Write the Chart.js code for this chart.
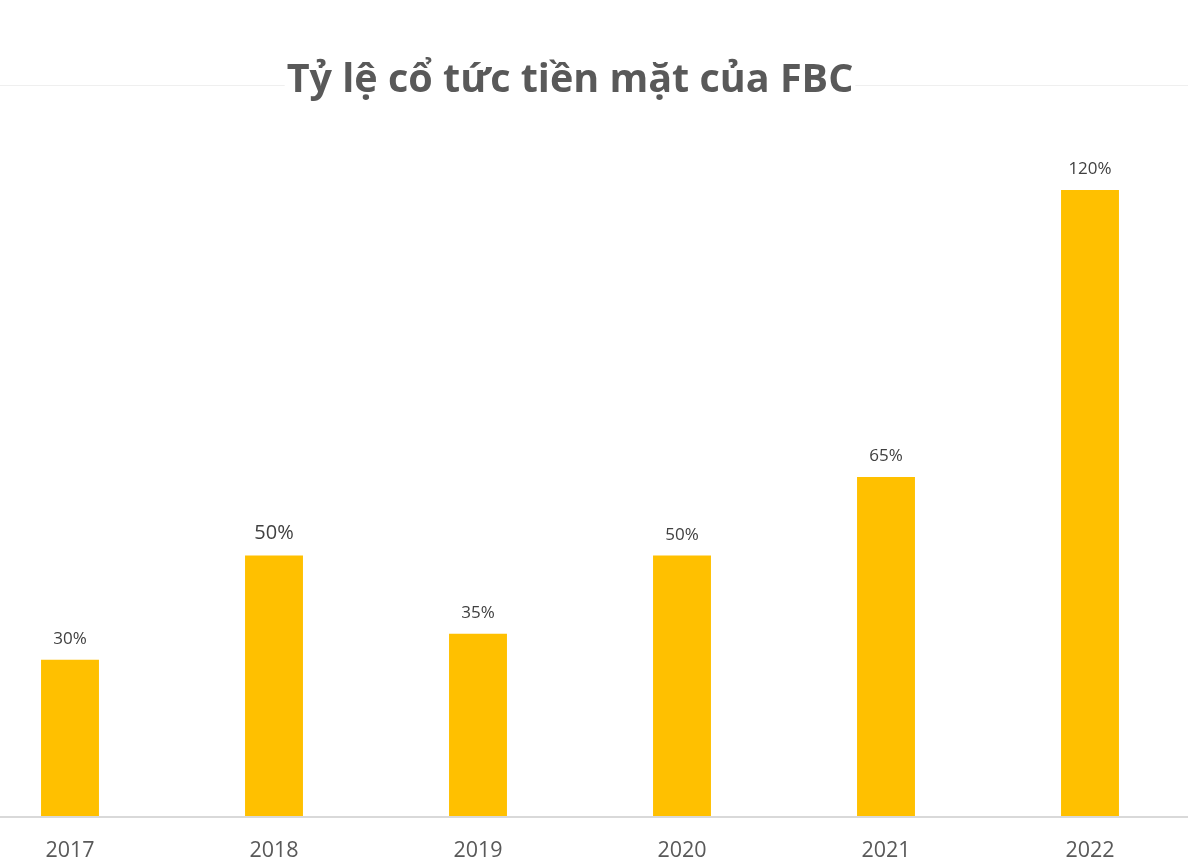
<!DOCTYPE html>
<html><head><meta charset="utf-8">
<script src="https://cdn.jsdelivr.net/npm/chart.js@4"></script>
<style>
html,body{margin:0;padding:0;background:#fff;overflow:hidden;width:1188px;height:866px}
#wrap{position:absolute;left:-32px;top:0;width:1224px;height:866px}
</style></head>
<body><div id="wrap"><canvas id="c"></canvas></div>
<script>
const years = ['2017', '2018', '2019', '2020', '2021', '2022'];
const dividendPct = [30, 50, 35, 50, 65, 120];
const chartTitle = 'Tỷ lệ cổ tức tiền mặt của FBC';
const yMin = 0, yMax = 140, yStep = 20;

Chart.defaults.font.family = "'Open Sans', 'Noto Sans', sans-serif";

const valueLabels = {
  id: 'valueLabels',
  afterDatasetsDraw(chart, args, opts) {
    const ctx = chart.ctx;
    const meta = chart.getDatasetMeta(0);
    ctx.save();
    ctx.fillStyle = opts.color;
    ctx.textAlign = 'center';
    ctx.textBaseline = 'middle';
    meta.data.forEach((bar, i) => {
      const size = i === opts.emphasisIndex ? opts.emphasisSize : opts.size;
      ctx.font = size + "px 'Open Sans', sans-serif";
      ctx.fillText(chart.data.datasets[0].data[i] + '%', bar.x, bar.y - (12 + size / 2));
    });
    ctx.restore();
  }
};

const boxedTitle = {
  id: 'boxedTitle',
  afterDraw(chart, args, opts) {
    const ctx = chart.ctx;
    ctx.save();
    ctx.font = 'bold ' + opts.size + "px 'Open Sans', sans-serif";
    const w = ctx.measureText(opts.text).width;
    ctx.fillStyle = '#ffffff';
    ctx.fillRect(opts.x - w / 2 - 2, opts.baseline - 14, w + 4, 12);
    ctx.fillStyle = opts.color;
    ctx.textAlign = 'center';
    ctx.textBaseline = 'alphabetic';
    ctx.fillText(opts.text, opts.x, opts.baseline);
    ctx.restore();
  }
};

new Chart(document.getElementById('c'), {
  type: 'bar',
  data: {
    labels: years,
    datasets: [{
      data: dividendPct,
      backgroundColor: '#FFC000',
      borderWidth: 0,
      barPercentage: 0.284,
      categoryPercentage: 1.0
    }]
  },
  options: {
    responsive: true,
    maintainAspectRatio: false,
    animation: false,
    layout: { padding: { top: 85.5, bottom: 0, left: 0, right: 0 } },
    plugins: {
      legend: { display: false },
      tooltip: { enabled: false },
      title: { display: false },
      valueLabels: { color: '#404040', size: 17, emphasisIndex: 1, emphasisSize: 20 },
      boxedTitle: { text: chartTitle, size: 39.5, color: '#595959', x: 602, baseline: 92 }
    },
    scales: {
      x: {
        grid: { display: false, drawTicks: false },
        border: { display: true, color: '#d9d9d9', width: 2 },
        ticks: { color: '#595959', font: { size: 21.5 }, padding: 21 },
        afterFit(axis) { axis.height = 49.5; }
      },
      y: {
        min: yMin, max: yMax,
        ticks: { display: false, stepSize: yStep },
        grid: {
          drawTicks: false,
          color: (c) => (c.tick && c.tick.value === yMax) ? '#efefef' : 'rgba(0,0,0,0)',
          lineWidth: 1
        },
        border: { display: false },
        afterFit(axis) { axis.width = 0; }
      }
    }
  },
  plugins: [valueLabels, boxedTitle]
});
</script>
</body></html>
